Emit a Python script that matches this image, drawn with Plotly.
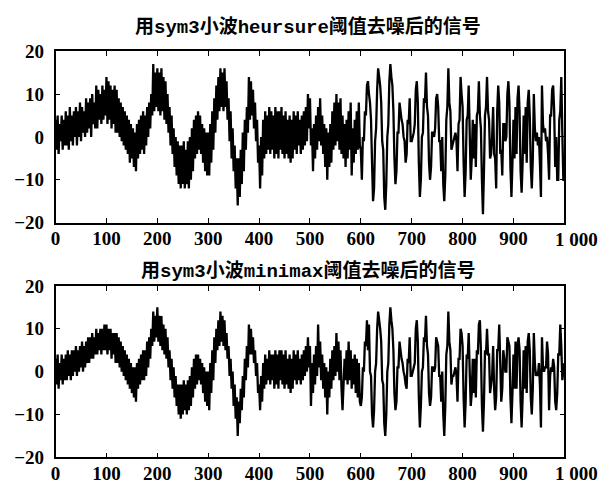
import plotly.graph_objects as go

# signal denoised with sym3 wavelet, heursure threshold (every 2nd sample)
heursure_vals = [
    # 0-98
    4, -3, 5, -4, 3, -1, 5, -3, 4, -2,
    6, -2, 5, -3, 7, -1, 5, -2, 6, 0,
    7, -2, 6, 0, 8, -1, 7, 1, 6, 0,
    9, 1, 8, 2, 9, 0, 10, 3, 8, 2,
    12, 2, 11, 4, 10, 3, 12, 4, 11, 5,
    # 100-198
    14, 3, 13, 4, 12, 2, 11, 3, 12, 1,
    11, 1, 9, 0, 8, -1, 7, -2, 6, -3,
    5, -4, 4, -6, 3, -5, 2, -7, 1, -8,
    3, -5, 4, -4, 5, -3, 6, -4, 5, -2,
    7, 0, 8, 2, 10, 5, 17, 6, 15, 7,
    # 200-298
    16, 6, 15, 5, 16, 6, 14, 4, 13, 3,
    10, 1, 7, -2, 5, -4, 2, -7, 0, -9,
    -1, -11, -2, -12, -2, -11, -1, -12, -3, -11,
    -1, -12, 0, -10, 2, -8, 4, -5, 5, -4,
    6, -3, 5, -4, 3, -6, 2, -8, 1, -9,
    # 300-398
    1, -9, 3, -6, 6, -3, 9, 1, 12, 4,
    14, 6, 16, 7, 15, 6, 16, 7, 13, 4,
    9, -1, 6, -5, 2, -8, -2, -12, -5, -16,
    -5, -14, -3, -11, 1, -8, 4, -3, 7, 1,
    14, 4, 13, 5, 11, 2, 8, -1, 4, -6,
    # 400-498
    -2, -12, 0, -9, 4, -5, 6, -4, 5, -3,
    7, -4, 6, -3, 5, -5, 7, -4, 6, -5,
    6, -3, 7, -4, 5, -5, 6, -4, 4, -5,
    5, -6, 4, -5, 6, -3, 5, -4, 6, -2,
    4, -4, 5, -3, 6, -2, 7, -1, 10, 2,
    # 500-598
    9, -2, 2, -8, 3, -5, 5, -3, 7, -1,
    9, -2, 5, -4, 3, -7, 2, -10, 1, -7,
    3, -6, 6, -3, 8, -2, 10, -1, 8, -3,
    9, -4, 5, -5, 3, -7, 4, -5, 6, -3,
    8, -9, 2, -6, 4, -4, 6, -3, 8, -2,
    # 600-698
    -3, -10, 0, -1, 6, 5, 12, 13, 10, 8,
    4, -6, -15, -12, -1, 2, 11, 16, 14, 12,
    8, -1, -3, -14, -17, -11, 0, 3, 13, 17,
    14, 12, 6, -5, -11, -8, 1, 1, 8, 6,
    4, 3, 0, -1, -6, -4, 4, 3, 9, -1,
    # 700-798
    -1, 0, 1, 3, 11, 13, 8, -6, -14, -10,
    0, 1, 9, 8, 15, 7, 5, -6, -10, -7,
    1, 1, 0, 2, 9, 10, 7, -1, -1, -8,
    0, -11, -15, -9, 4, 7, 16, 8, 6, -3,
    -2, -1, 0, 1, -1, -8, 3, 4, 14, 10,
    # 800-898
    7, -6, -14, -8, 4, 5, 12, 1, -10, -5,
    4, -5, 3, -7, 5, 6, 13, 5, 2, -10,
    -18, -8, 5, 7, 14, 6, 4, -5, -4, 0,
    7, -4, -5, -12, 6, 12, 8, -4, -3, -9,
    3, 3, -1, 0, 10, 13, 8, -7, -14, -6,
    # 900-1000
    4, -5, 7, -4, 9, 12, 6, -8, -13, -6,
    5, -4, 7, -6, 8, 11, 5, -7, -12, -5,
    10, 2, -1, 1, -2, 0, -6, -14, 12, 3,
    1, 2, -1, 0, -4, -10, 5, 5, 11, 12,
    6, -7, 0, -10, -10, 4, 6, 14, 1, -10,
    -10,
]

# signal denoised with sym3 wavelet, minimax threshold (every 2nd sample)
minimax_vals = [
    # 0-98
    3, -3, 4, -4, 2, -2, 4, -3, 3, -2,
    4, -2, 5, -1, 4, -2, 5, -1, 5, 0,
    6, -1, 5, 0, 6, 1, 7, 0, 6, 1,
    7, 2, 8, 2, 8, 3, 9, 3, 8, 4,
    10, 4, 9, 5, 10, 4, 10, 5, 11, 5,
    # 100-198
    11, 4, 10, 5, 10, 3, 9, 4, 9, 2,
    9, 2, 8, 1, 7, 0, 6, -1, 5, -2,
    4, -3, 3, -4, 2, -5, 1, -6, 1, -7,
    2, -4, 3, -3, 4, -2, 5, -2, 5, -1,
    7, 1, 8, 3, 10, 6, 14, 7, 13, 8,
    # 200-298
    15, 7, 13, 6, 13, 5, 11, 4, 10, 3,
    8, 1, 5, -2, 3, -4, 1, -6, -1, -8,
    -3, -10, -3, -11, -3, -10, -2, -9, -3, -10,
    -2, -9, -1, -8, 1, -6, 3, -4, 4, -3,
    4, -2, 3, -3, 2, -5, 1, -7, 0, -8,
    # 300-398
    0, -9, 2, -5, 5, -2, 8, 2, 10, 5,
    12, 6, 14, 7, 13, 6, 12, 5, 9, 3,
    6, -1, 3, -4, 0, -8, -3, -11, -6, -15,
    -7, -12, -4, -9, -1, -6, 3, -2, 6, 1,
    11, 4, 10, 4, 8, 2, 5, -1, 2, -5,
    # 400-498
    -3, -9, -1, -7, 2, -4, 4, -3, 3, -2,
    5, -3, 4, -2, 4, -4, 5, -3, 4, -4,
    5, -2, 5, -3, 4, -4, 5, -3, 3, -4,
    4, -5, 3, -4, 5, -2, 4, -3, 5, -2,
    3, -3, 4, -2, 5, -1, 6, 0, 8, 1,
    # 500-598
    6, -8, 2, -5, 4, -3, 6, -1, 11, 1,
    7, -2, 4, -4, 2, -6, 1, -10, 0, -6,
    3, -4, 5, -2, 6, -1, 9, 0, 7, -2,
    5, -4, -9, -3, 3, -2, 5, -3, 7, -2,
    5, -4, 3, -3, 4, -5, 3, -6, 2, -7,
    # 600-698
    -8, -6, 1, 0, 7, 6, 12, 5, 11, 0,
    -1, -10, -13, -9, 0, 2, 10, 14, 12, 10,
    7, -2, -3, -12, -15, -10, 0, 2, 11, 15,
    12, 10, 5, -5, -9, -7, 1, 1, 7, 5,
    3, 2, 0, -1, -3, -4, 3, 2, 8, -1,
    # 700-798
    -1, 0, 1, 2, 10, 12, 7, -6, -13, -8,
    0, 1, 8, 7, 13, 6, 4, -5, -8, -6,
    1, 1, 0, 1, 8, 7, 6, -1, -1, -7,
    0, -10, -15, -8, 4, 6, 14, 7, 5, -3,
    -1, -1, 0, 1, -1, -7, 3, 3, 10, 9,
    # 800-898
    6, -6, -13, -7, 4, 3, 9, 0, -8, -5,
    3, -5, 3, -6, 5, 4, 11, 12, 5, -8,
    -14, -7, 5, 4, 10, 4, 4, -5, -3, -1,
    6, -4, -9, -6, 5, 5, 11, 2, -7, -4,
    5, 3, 0, 0, 8, 7, 6, -6, -12, -5,
    # 900-1000
    4, -4, 7, -4, 6, 8, 5, -7, -13, -6,
    5, -4, 6, -5, 7, 9, 5, -6, -10, -4,
    9, 2, -1, 0, -1, 2, -3, -13, 8, 1,
    0, 1, 1, 7, 4, -9, -1, 1, 0, 3,
    1, -7, -9, -5, 4, 4, 11, 6, -2, 0,
    2,
]

# sample index of each value (every 2nd sample of 0..1000)
sample_idx = list(range(0, 2 * len(heursure_vals), 2))

MONO = "<span style=\"font-family:'Liberation Mono'\">%s</span>"
titles = ["用" + MONO % "sym3" + "小波" + MONO % "heursure" + "阈值去噪后的信号",
          "用" + MONO % "sym3" + "小波" + MONO % "minimax" + "阈值去噪后的信号"]

x_ticks = list(range(0, 1001, 100))
x_ticktext = ["0", "100", "200", "300", "400", "500", "600", "700", "800", "900", "1 000"]
y_ticks = [-20, -10, 0, 10, 20]
y_ticktext = ["\u221220", "\u221210", "0", "10", "20"]

W, H = 607, 500
xdom = [51 / W, 564 / W]
ydoms = [[1 - 222 / H, 1 - 43 / H], [1 - 467 / H, 1 - 288 / H]]

fig = go.Figure()
fig.add_trace(go.Scatter(x=sample_idx, y=heursure_vals, mode="lines",
                         line=dict(color="black", width=2.3, simplify=False),
                         xaxis="x", yaxis="y", showlegend=False, hoverinfo="skip"))
fig.add_trace(go.Scatter(x=sample_idx, y=minimax_vals, mode="lines",
                         line=dict(color="black", width=2.3, simplify=False),
                         xaxis="x2", yaxis="y2", showlegend=False, hoverinfo="skip"))

tickfont = dict(family="Liberation Serif", size=19, color="black", weight="bold")
axcommon = dict(showline=True, linecolor="black", linewidth=1.5, mirror="ticks",
                ticks="inside", ticklen=5, tickwidth=1, tickcolor="black",
                showgrid=False, zeroline=False, tickfont=tickfont)

# last x label ("1 000") is drawn separately, offset to the right as in the original
x_shown = x_ticktext[:-1] + [""]

fig.update_layout(
    width=W, height=H, margin=dict(l=0, r=0, t=0, b=0),
    paper_bgcolor="white", plot_bgcolor="white",
    xaxis=dict(domain=xdom, range=[0, 1000], tickvals=x_ticks, ticktext=x_shown,
               anchor="y", ticklabelstandoff=-2, **axcommon),
    yaxis=dict(domain=ydoms[0], range=[-20, 20], tickvals=y_ticks, ticktext=y_ticktext,
               anchor="x", ticklabelstandoff=6, **axcommon),
    xaxis2=dict(domain=xdom, range=[0, 1000], tickvals=x_ticks, ticktext=x_shown,
                anchor="y2", ticklabelstandoff=-2, **axcommon),
    yaxis2=dict(domain=ydoms[1], range=[-20, 20], tickvals=y_ticks, ticktext=y_ticktext,
                anchor="x2", ticklabelstandoff=6, **axcommon),
)

for ya in ["y", "y2"]:
    fig.add_annotation(text="<b>" + x_ticktext[-1] + "</b>", xref="paper", yref=ya + " domain",
                       x=576 / W, y=0, yshift=-4, xanchor="center", yanchor="top",
                       showarrow=False,
                       font=dict(family="Liberation Serif", size=19, color="black"))

for i, t in enumerate(titles):
    ycen = [16, 270][i]
    fig.add_annotation(text="<b>" + t + "</b>", xref="paper", yref="paper",
                       x=306 / W, y=1 - ycen / H, xanchor="center", yanchor="middle",
                       showarrow=False,
                       font=dict(family="Noto Sans CJK SC", size=19, color="black"))

fig.write_html("out.html")
